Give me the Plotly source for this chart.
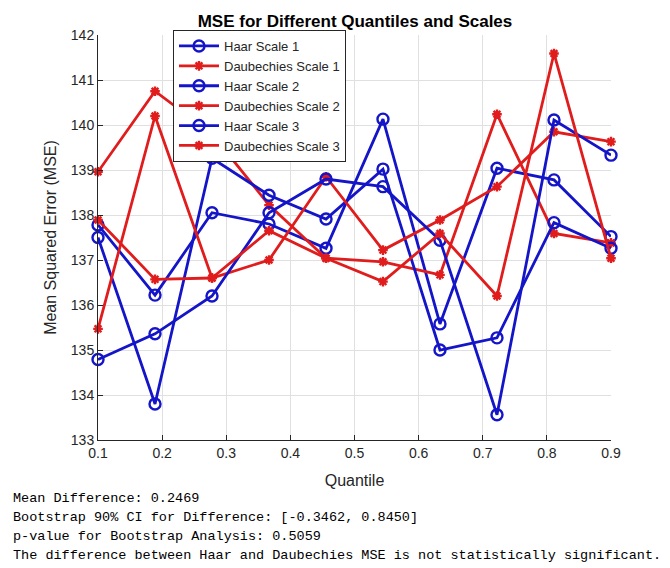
import plotly.graph_objects as go

quantiles = [0.1, 0.1889, 0.2778, 0.3667, 0.4556, 0.5444, 0.6333, 0.7222, 0.8111, 0.9]

haar_1 = [137.78, 136.22, 138.05, 137.80, 137.26, 140.13, 135.58, 139.04, 138.78, 137.52]
daub_1 = [138.96, 140.75, 139.80, 138.22, 137.04, 136.96, 136.67, 140.24, 137.59, 137.38]
haar_2 = [137.50, 133.80, 139.26, 138.44, 137.91, 139.02, 135.00, 135.27, 137.83, 137.26]
daub_2 = [137.89, 136.57, 136.60, 137.00, 138.85, 137.22, 137.89, 138.63, 139.85, 139.63]
haar_3 = [134.79, 135.36, 136.20, 138.05, 138.80, 138.63, 137.44, 133.56, 140.11, 139.33]
daub_3 = [135.47, 140.20, 136.60, 137.65, 137.04, 136.52, 137.59, 136.20, 141.59, 137.04]

series_names = ["Haar Scale 1", "Daubechies Scale 1", "Haar Scale 2",
                "Daubechies Scale 2", "Haar Scale 3", "Daubechies Scale 3"]
series_values = [haar_1, daub_1, haar_2, daub_2, haar_3, daub_3]

x_ticks = [0.1, 0.2, 0.3, 0.4, 0.5, 0.6, 0.7, 0.8, 0.9]
y_ticks = [133, 134, 135, 136, 137, 138, 139, 140, 141, 142]

result_lines = [
    "Mean Difference: 0.2469",
    "Bootstrap 90% CI for Difference: [-0.3462, 0.8450]",
    "p-value for Bootstrap Analysis: 0.5059",
    "The difference between Haar and Daubechies MSE is not statistically significant.",
]

BLUE = "#1414c8"
RED = "#e01c1c"

fig = go.Figure()
for name, vals in zip(series_names, series_values):
    is_haar = name.startswith("Haar")
    color = BLUE if is_haar else RED
    fig.add_trace(go.Scatter(
        x=quantiles, y=vals, name=name, mode="lines+markers",
        line=dict(color=color, width=2.8),
        marker=dict(
            symbol="circle-open" if is_haar else "asterisk-open",
            size=11 if is_haar else 8,
            color=color,
            line=dict(color=color, width=2.4),
        ),
        cliponaxis=False,
    ))

# page is offset by the 8px body margin
OFF = 8
W, H = 670 - OFF, 568 - OFF
L, T = 98 - OFF, 35 - OFF
R = W - (611 - OFF)
B = H - (440 - OFF)
pw = W - L - R
ph = H - T - B

def px_x(px):
    return (px - OFF - L) / pw

def px_y(py):
    return 1 - (py - OFF - T) / ph

annotations = []
for i, line in enumerate(result_lines):
    annotations.append(dict(
        text=line, xref="paper", yref="paper",
        x=px_x(11), y=px_y(498 + i * 19),
        xanchor="left", yanchor="middle", showarrow=False,
        font=dict(family="Liberation Mono, Courier New, monospace", size=13.5, color="#000000"),
    ))

fig.update_layout(
    width=W, height=H,
    margin=dict(l=L, r=R, t=T, b=B),
    paper_bgcolor="white", plot_bgcolor="white",
    font=dict(family="Liberation Sans, Arial, sans-serif", color="#262626"),
    title=dict(
        text="<b>MSE for Different Quantiles and Scales</b>",
        x=(355 - OFF) / W, xanchor="center", y=1 - (21 - OFF) / H, yanchor="middle",
        font=dict(size=17, color="#000000"),
    ),
    xaxis=dict(
        range=[0.1, 0.9], tickvals=x_ticks, ticktext=[f"{v:g}" for v in x_ticks],
        showgrid=True, gridcolor="#e0e0e0", gridwidth=1,
        zeroline=False, showline=True, linecolor="#262626", linewidth=1,
        ticks="inside", ticklen=5, tickcolor="#262626",
        tickfont=dict(size=14, color="#262626"),
        title=dict(text="Quantile", font=dict(size=16, color="#262626"), standoff=15),
    ),
    yaxis=dict(
        range=[133, 142], tickvals=y_ticks,
        showgrid=True, gridcolor="#e0e0e0", gridwidth=1,
        zeroline=False, showline=True, linecolor="#262626", linewidth=1,
        ticks="inside", ticklen=5, tickcolor="#262626",
        tickfont=dict(size=14, color="#262626"),
        title=dict(text="Mean Squared Error (MSE)", font=dict(size=16, color="#262626"), standoff=10),
    ),
    legend=dict(
        x=px_x(173), y=px_y(30), xanchor="left", yanchor="top",
        bgcolor="white", bordercolor="#262626", borderwidth=1,
        font=dict(size=13, color="#262626"),
        tracegroupgap=0, itemwidth=40,
    ),
    annotations=annotations,
    showlegend=True,
)

fig.write_html("out.html")
